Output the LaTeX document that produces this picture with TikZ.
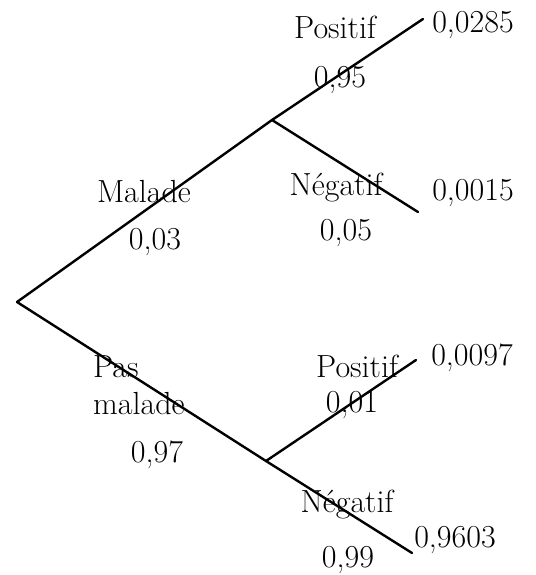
\documentclass[tikz,border=0pt]{standalone}
\begin{document}
\begin{tikzpicture}[x=1pt,y=-1pt,
  branch/.style={line width=2.4pt,line cap=round},
  lbl/.style={inner sep=0pt,font=\fontsize{32}{38}\selectfont}]
\useasboundingbox (0,0) rectangle (535,575);
\coordinate (root) at (17,302);
\coordinate (m) at (272,120);
\coordinate (mp) at (423,19);
\coordinate (mn) at (418,212);
\coordinate (pm) at (266,461);
\coordinate (pp) at (416,360);
\coordinate (pn) at (412,553);
\draw[branch] (root) -- (m);
\draw[branch] (m) -- (mp);
\draw[branch] (m) -- (mn);
\draw[branch] (root) -- (pm);
\draw[branch] (pm) -- (pp);
\draw[branch] (pm) -- (pn);
\node[lbl] (t1) at (335,27) {Positif};
\node[lbl] (t2) at (473,25) {0,0285};
\node[lbl] (t3) at (340,80) {0,95};
\node[lbl] (t4) at (144,192) {Malade};
\node[lbl] (t5) at (155,242) {0,03};
\node[lbl] (t6) at (336,188) {Négatif};
\node[lbl] (t7) at (346,233) {0,05};
\node[lbl] (t8) at (473,193) {0,0015};
\node[lbl,anchor=west] (t9) at (93,367) {Pas};
\node[lbl,anchor=west] (t10) at (93,404) {malade};
\node[lbl] (t11) at (157,455) {0,97};
\node[lbl] (t12) at (357,366) {Positif};
\node[lbl] (t13) at (472,358) {0,0097};
\node[lbl] (t14) at (352,405) {0,01};
\node[lbl] (t15) at (347,505) {Négatif};
\node[lbl] (t16) at (348,560) {0,99};
\node[lbl] (t17) at (455,540) {0,9603};
\end{tikzpicture}
\end{document}
